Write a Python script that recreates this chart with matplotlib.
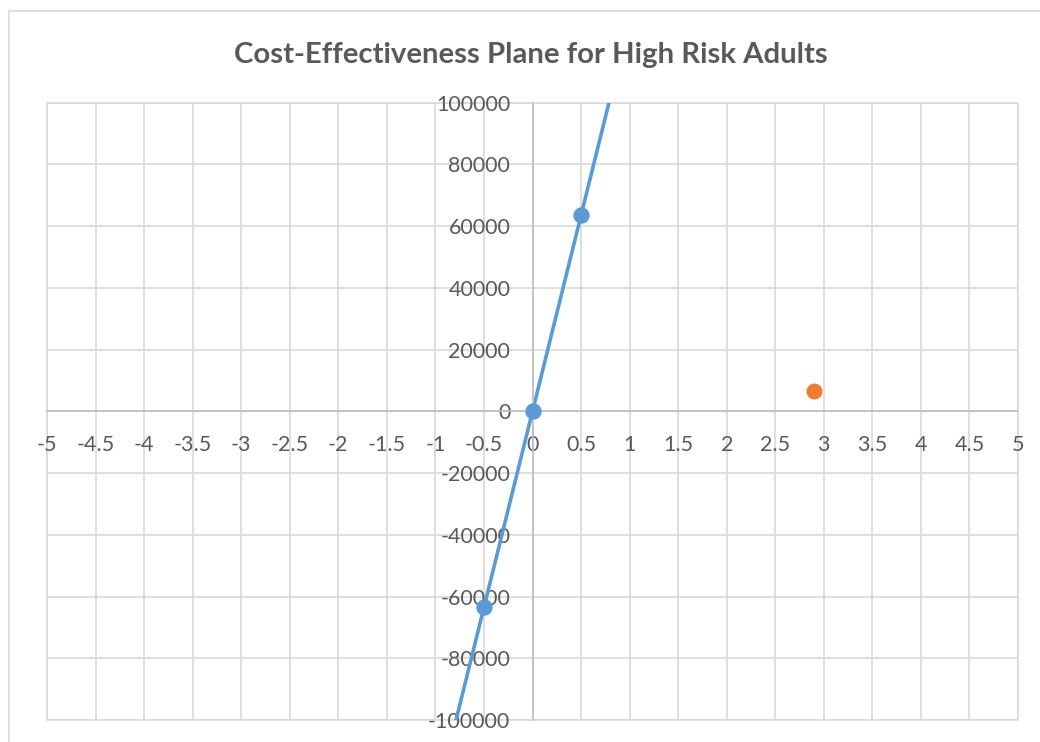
import numpy as np
import matplotlib
matplotlib.use("Agg")
import matplotlib.pyplot as plt
from matplotlib.patches import Rectangle
from matplotlib.ticker import FixedLocator, FuncFormatter

# threshold line (willingness-to-pay) and the intervention point
wtp_effect = [-0.5, 0, 0.5]
wtp_cost = [-63500, 0, 63500]
adult_effect = [2.9]
adult_cost = [6700]

x_ticks = np.arange(-5, 5.01, 0.5)
y_ticks = np.arange(-100000, 100001, 20000)

BLUE = "#5B9BD5"
ORANGE = "#ED7D31"
TEXT = "#595959"
GRID = "#D9D9D9"
AXIS = "#BFBFBF"

plt.rcParams["font.family"] = ["Lato", "DejaVu Sans"]

W, H = 1040, 742
fig = plt.figure(figsize=(W / 100, H / 100), dpi=100)

# outer chart frame
fig.patches.append(Rectangle((8.5 / W, -0.1), 1.2, (H - 10.5) / H + 0.1,
                             transform=fig.transFigure, fill=False,
                             ec=GRID, lw=1.2))

ax = fig.add_axes([47 / W, 22 / H, 971 / W, 617.3 / H])
ax.set_xlim(-5, 5)
ax.set_ylim(-100000, 100000)

ax.xaxis.set_major_locator(FixedLocator(x_ticks))
ax.yaxis.set_major_locator(FixedLocator(y_ticks))
ax.xaxis.set_major_formatter(FuncFormatter(lambda v, p: f"{v:g}"))
ax.yaxis.set_major_formatter(FuncFormatter(lambda v, p: f"{v:.0f}"))

ax.set_axisbelow(True)
ax.grid(True, color=GRID, lw=1.2)

for s in ["top", "right"]:
    ax.spines[s].set_visible(False)
ax.spines["left"].set_position(("data", 0))
ax.spines["bottom"].set_position(("data", 0))
for s in ["left", "bottom"]:
    ax.spines[s].set_color(AXIS)
    ax.spines[s].set_linewidth(1.2)
ax.add_patch(Rectangle((0, 0), 1, 1, transform=ax.transAxes, fill=False,
                       ec=GRID, lw=1.2, clip_on=False, zorder=0.4))

ax.tick_params(axis="x", length=0, pad=17, labelsize=15.5, labelcolor=TEXT)
ax.tick_params(axis="y", length=0, pad=16, labelsize=15.5, labelcolor=TEXT)

ax.axline((wtp_effect[0], wtp_cost[0]), (wtp_effect[-1], wtp_cost[-1]),
          color=BLUE, lw=2.6, zorder=2)
ax.plot(wtp_effect, wtp_cost, "o", color=BLUE, ms=10.8, zorder=3)
ax.plot(adult_effect, adult_cost, "o", color=ORANGE, ms=10.5, zorder=3)

fig.text(530.5 / W, (H - 63.3) / H, "Cost-Effectiveness Plane for High Risk Adults",
         ha="center", va="baseline", fontsize=21.2, fontweight="bold", color=TEXT)

fig.savefig("out.png", dpi=100)
